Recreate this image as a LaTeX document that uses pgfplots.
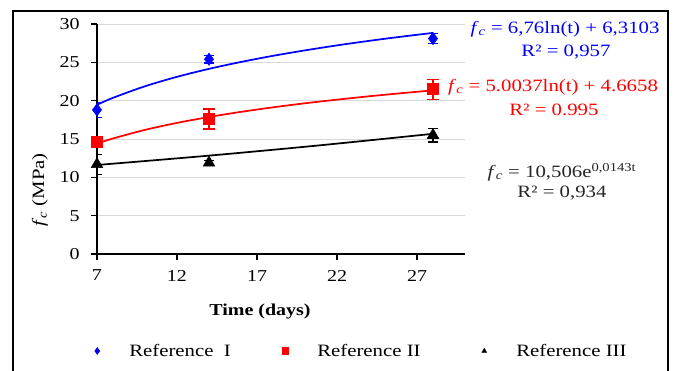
\documentclass[border=0pt]{standalone}
\usepackage{fontspec}
\setmainfont{Liberation Serif}[FakeStretch=1.2]
\usepackage{pgfplots}
\pgfplotsset{compat=1.18}
\newcommand{\fc}{\textit{f}\textsubscript{\textit{c}}}
\begin{document}
\begin{tikzpicture}
\useasboundingbox (0,0) rectangle (506.25pt,278.25pt);
\draw[line width=1.5pt] (9.75pt,-5pt) -- (9.75pt,270pt) -- (501pt,270pt) -- (501pt,-5pt);
\begin{axis}[
  at={(72.75pt,87.75pt)}, anchor=south west,
  scale only axis, width=276pt, height=172.5pt,
  xmin=7, xmax=30, ymin=0, ymax=30,
  xtick={7,12,17,22,27}, ytick={0,5,10,15,20,25,30},
  axis x line*=bottom, axis y line*=left,
  axis line style={-, line width=1.5pt, black},
  tick align=outside, major tick length=4.5pt,
  tick style={black, line width=1.2pt},
  ymajorgrids, major grid style={gray!30, line width=0.6pt},
  /pgf/number format/assume math mode=true,
  ticklabel style={font=\fontsize{12.5}{14}\selectfont},
  yticklabel style={xshift=-5pt},
  xticklabel style={yshift=-4pt},
  xlabel={Time (days)},
  xlabel style={at={(axis description cs:0.443,-0.252)}, anchor=center, font=\fontsize{12.5}{14}\selectfont\bfseries},
  ylabel={\fc\ (MPa)},
  ylabel style={at={(axis description cs:-0.155,0.278)}, anchor=center, font=\fontsize{13}{15}\selectfont},
  legend columns=3,
  legend style={at={(axis description cs:0,-0.4217)}, anchor=west, xshift=-3pt,
    draw=none, fill=none, inner sep=0pt, nodes={inner sep=0pt, font=\fontsize{13}{15}\selectfont}},
  myleg/.style={legend image code/.code={\draw[##1] plot coordinates {(0pt,0pt)}; \path[draw=none,fill=none] (-3pt,0pt) (24pt,0pt);}},
]
% trend lines
\addplot[blue, line width=1.3pt, smooth, forget plot] coordinates {
 (7,19.46) (8,20.37) (10,21.88) (12,23.11) (14,24.15) (16,25.05) (18,25.85) (20,26.56) (22,27.21) (24,27.80) (26,28.34) (28,28.84)};
\addplot[red, line width=1.3pt, smooth, forget plot] coordinates {
 (7,14.40) (8,15.07) (10,16.19) (12,17.10) (14,17.87) (16,18.54) (18,19.13) (20,19.66) (22,20.13) (24,20.57) (26,20.97) (28,21.34)};
\addplot[black, line width=1.3pt, smooth, forget plot] coordinates {
 (7,11.61) (14,12.83) (21,14.19) (28,15.68)};
% data
\addplot[only marks, mark=diamond*, blue, mark size=4.6pt, forget plot,
  error bars/.cd, y dir=both, y explicit, error bar style={line width=0.9pt},
  error mark options={rotate=90, blue, mark size=3.5pt, line width=0.9pt}]
  coordinates {(7,18.8) +- (0,1.0) (14,25.4) +- (0,0.5) (28,28.1) +- (0,0.65)};
\addplot[only marks, mark=square*, red, mark size=4.2pt, forget plot,
  error bars/.cd, y dir=both, y explicit, error bar style={line width=0.9pt},
  error mark options={rotate=90, red, mark size=4.5pt, line width=0.9pt}]
  coordinates {(7,14.6) +- (0,0.5) (14,17.6) +- (0,1.3) (28,21.5) +- (0,1.3)};
\addplot[only marks, mark=triangle*, black, mark size=5pt, forget plot,
  error bars/.cd, y dir=both, y explicit, error bar style={line width=0.9pt},
  error mark options={rotate=90, black, mark size=3.5pt, line width=0.9pt}]
  coordinates {(7,11.7) +- (0,1.3) (14,11.9) +- (0,0.3) (28,15.5) +- (0,0.9)};
% legend
\addlegendimage{blue, mark=diamond*, mark size=2.5pt, myleg}
\addlegendentry{\makebox[114pt][l]{Reference~~I}}
\addlegendimage{red, mark=square*, mark size=2.6pt, myleg}
\addlegendentry{\makebox[122.25pt][l]{Reference II}}
\addlegendimage{black, mark=triangle*, mark size=2pt, myleg}
\addlegendentry{Reference III}
\end{axis}
\node[blue, font=\fontsize{13}{15}\selectfont] at (423.75pt,256.5pt) {\fc\ = 6,76ln(t) + 6,3103};
\node[blue, font=\fontsize{13}{15}\selectfont] at (424.5pt,239.25pt) {R² = 0,957};
\node[red, font=\fontsize{13}{15}\selectfont] at (414.75pt,213pt) {\fc\ = 5.0037ln(t) + 4.6658};
\node[red, font=\fontsize{13}{15}\selectfont] at (415.5pt,195.75pt) {R² = 0.995};
\node[black!85, font=\fontsize{13}{15}\selectfont] at (421.5pt,149.25pt) {\fc\ = 10,506e\textsuperscript{0,0143t}};
\node[black!85, font=\fontsize{13}{15}\selectfont] at (421.5pt,133.5pt) {R² = 0,934};
\end{tikzpicture}
\end{document}
